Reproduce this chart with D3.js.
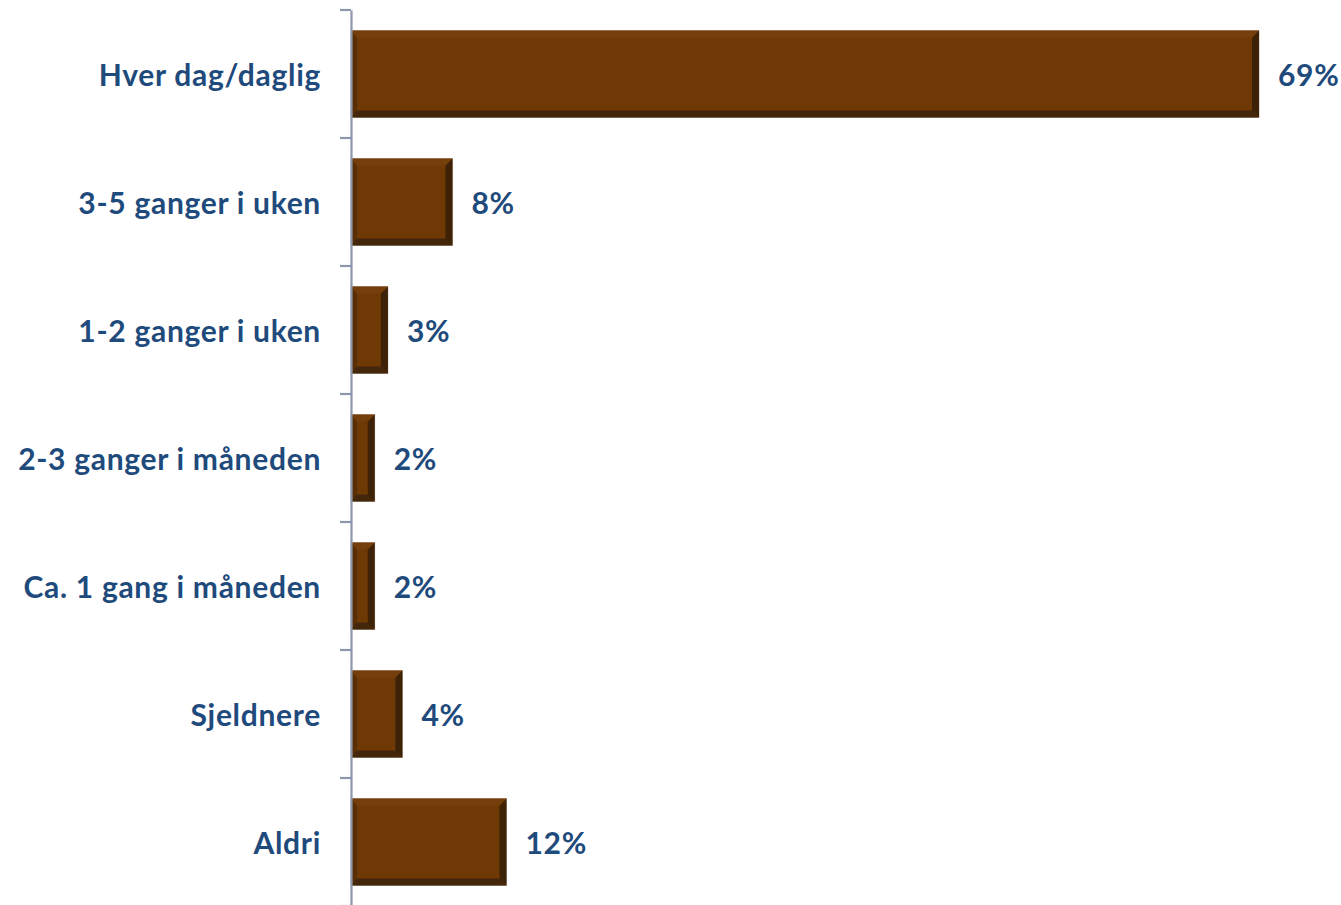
<!DOCTYPE html>
<meta charset="utf-8">
<style>
body { margin: 0; background: #fff; }
.label { font-family: Lato, "Open Sans", sans-serif; font-weight: bold; fill: #1f4a7c; letter-spacing: 0.7px; }
</style>
<script src="https://cdn.jsdelivr.net/npm/d3@7"></script>
<body>
<script>

var width = 1341,
    height = 905;

var categories = ["Hver dag/daglig", "3-5 ganger i uken", "1-2 ganger i uken",
                  "2-3 ganger i måneden", "Ca. 1 gang i måneden", "Sjeldnere", "Aldri"];
var values = [68.9, 7.7, 2.8, 1.8, 1.8, 3.9, 11.8];

var svg = d3.select("body")
              .append("svg")
              .attr("width", width)
              .attr("height", height);

var x0 = 351;

var x = d3.scaleLinear()
            .domain([0, 68.9])
            .range([x0, 1259]);

var y = d3.scaleBand()
            .domain(categories)
            .range([10, 906])
            .paddingInner(0.32)
            .paddingOuter(0.16);

var bev = 7;

var bars = svg.selectAll(".bar")
            .data(values)
            .enter()
              .append("g")
                .attr("class", "bar")
                .attr("transform", function (d, i) { return "translate(" + x0 + "," + y(categories[i]) + ")"; });

bars.append("rect")
  .attr("width", function (d) { return x(d) - x0; })
  .attr("height", y.bandwidth())
  .attr("fill", "#6e3905")
  .attr("stroke", "#b8a89a")
  .attr("stroke-width", 0.8);

// bevel faces: left, bottom, right, top
bars.append("path")
  .attr("fill", "#5a2e05")
  .attr("d", function (d) {
    var h = y.bandwidth();
    return "M0,0L" + (bev - 1) + "," + bev + "L" + (bev - 1) + "," + (h - bev) + "L0," + h + "Z";
  });

bars.append("path")
  .attr("fill", "#43270d")
  .attr("d", function (d) {
    var w = x(d) - x0, h = y.bandwidth();
    return "M0," + h + "L" + (bev - 1) + "," + (h - bev) + "L" + (w - bev) + "," + (h - bev) + "L" + w + "," + h + "Z";
  });

bars.append("path")
  .attr("fill", "#3e2207")
  .attr("d", function (d) {
    var w = x(d) - x0, h = y.bandwidth();
    return "M" + w + ",0L" + (w - bev) + "," + bev + "L" + (w - bev) + "," + (h - bev) + "L" + w + "," + h + "Z";
  });

bars.append("path")
  .attr("fill", "#743f0b")
  .attr("d", function (d) {
    var w = x(d) - x0;
    return "M0,0L" + w + ",0L" + (w - bev) + "," + bev + "L" + (bev - 1) + "," + bev + "Z";
  });

// axis
var axis = svg.append("g")
  .attr("transform", "translate(" + x0 + ",0)")
  .call(d3.axisLeft(y).tickSize(0).tickFormat(""));
axis.select(".domain").attr("stroke", "#8e96ab").attr("stroke-width", 2.2);

var step = y.step();
var tickPos = d3.range(categories.length + 1).map(function (i) { return 10 + i * step; });
svg.selectAll(".tick-mark")
  .data(tickPos)
  .enter()
    .append("line")
      .attr("x1", x0 - 11)
      .attr("x2", x0)
      .attr("y1", function (d) { return d; })
      .attr("y2", function (d) { return d; })
      .attr("stroke", "#8e96ab")
      .attr("stroke-width", 2.2);

svg.selectAll(".cat")
  .data(categories)
  .enter()
    .append("text")
      .attr("class", "label")
      .attr("x", 321)
      .attr("y", function (d) { return y(d) + y.bandwidth() / 2 + 1; })
      .attr("dy", "0.35em")
      .attr("text-anchor", "end")
      .attr("font-size", "30px")
      .text(function (d) { return d; });

svg.selectAll(".val")
  .data(values)
  .enter()
    .append("text")
      .attr("class", "label")
      .attr("x", function (d) { return x(d) + 19; })
      .attr("y", function (d, i) { return y(categories[i]) + y.bandwidth() / 2 + 1; })
      .attr("dy", "0.35em")
      .attr("font-size", "30px")
      .text(function (d) { return Math.round(d) + "%"; });

</script>
</body>
